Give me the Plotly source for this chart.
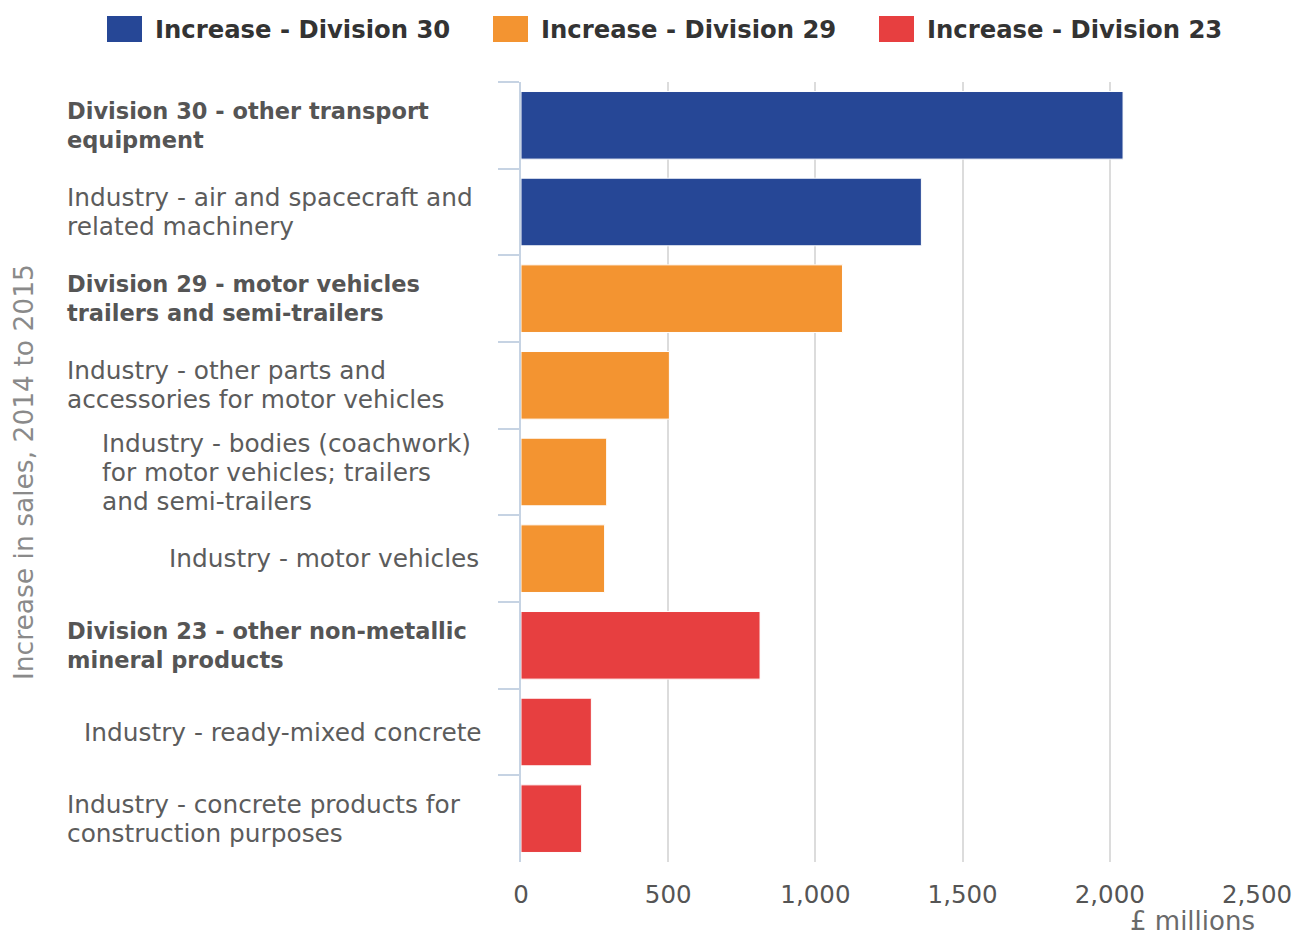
import plotly.graph_objects as go

# ---------------- data ----------------
categories = [
    "Division 30 - other transport equipment",
    "Industry - air and spacecraft and related machinery",
    "Division 29 - motor vehicles trailers and semi-trailers",
    "Industry - other parts and accessories for motor vehicles",
    "Industry - bodies (coachwork) for motor vehicles; trailers and semi-trailers",
    "Industry - motor vehicles",
    "Division 23 - other non-metallic mineral products",
    "Industry - ready-mixed concrete",
    "Industry - concrete products for construction purposes",
]
label_lines = [
    ["Division 30 - other transport", "equipment"],
    ["Industry - air and spacecraft and", "related machinery"],
    ["Division 29 - motor vehicles", "trailers and semi-trailers"],
    ["Industry - other parts and", "accessories for motor vehicles"],
    ["Industry - bodies (coachwork)", "for motor vehicles; trailers", "and semi-trailers"],
    ["Industry - motor vehicles"],
    ["Division 23 - other non-metallic", "mineral products"],
    ["Industry - ready-mixed concrete"],
    ["Industry - concrete products for", "construction purposes"],
]
is_division = [True, False, True, False, False, False, True, False, False]

series_names = ["Increase - Division 30", "Increase - Division 29", "Increase - Division 23"]
series_colors = ["#264796", "#F39431", "#E73F40"]
series_categories = [categories[0:2], categories[2:6], categories[6:9]]
series_values = [
    [2045, 1360],
    [1092, 504, 291, 284],
    [812, 239, 206],
]

x_title = "£ millions"
y_title = "Increase in sales, 2014 to 2015"
x_ticks = [0, 500, 1000, 1500, 2000, 2500]

# ---------------- layout constants ----------------
# page body has an 8px margin, so figure pixel = screen pixel - 8
OFF = 8
W, H = 1302 - 2 * OFF, 947 - 2 * OFF
PLOT_L, PLOT_R, PLOT_T, PLOT_B = 521, 1257, 82, 862   # screen pixels
L, T = PLOT_L - OFF, PLOT_T - OFF
R, B = W - (PLOT_R - OFF), H - (PLOT_B - OFF)
PW, PH = PLOT_R - PLOT_L, PLOT_B - PLOT_T
FONT = "DejaVu Sans, Verdana, sans-serif"
LINE_H = 29


def px_x(p):
    return (p - PLOT_L) / PW


def px_y(p):
    return (PLOT_B - p) / PH


fig = go.Figure()
for name, color, cats, vals in zip(series_names, series_colors, series_categories, series_values):
    fig.add_trace(go.Bar(
        name=name, y=cats, x=vals, orientation="h",
        marker=dict(color=color, line=dict(color="white", width=1)),
        showlegend=False,
        hovertemplate="%{y}: %{x:,}<extra></extra>",
    ))

annotations = []
shapes = []

# category labels: lines left-aligned, block placed per label
label_pos = [
    ("left", 65), ("left", 65), ("left", 65), ("left", 65), ("left", 100),
    ("right", 481), ("left", 65), ("right", 484), ("left", 65),
]
for cat, lines, bold, (side, pos) in zip(categories, label_lines, is_division, label_pos):
    n = len(lines)
    for i, line in enumerate(lines):
        annotations.append(dict(
            xref="paper", yref="y", x=px_x(pos), y=cat,
            yshift=((n - 1) / 2 - i) * LINE_H,
            text=f"<b>{line}</b>" if bold else line,
            xanchor=side, yanchor="middle", align="left", showarrow=False,
            font=dict(family=FONT, size=22.5 if bold else 24.8,
                      color="#555555" if bold else "#5c5c5c"),
        ))

# y axis title
annotations.append(dict(
    xref="paper", yref="paper", x=px_x(23), y=0.5, text=y_title, textangle=-90,
    xanchor="center", yanchor="middle", showarrow=False,
    font=dict(family=FONT, size=26.5, color="#8a8a8a"),
))
# x axis title
annotations.append(dict(
    xref="paper", yref="paper", x=1, y=px_y(921), text=x_title,
    xanchor="right", yanchor="middle", showarrow=False,
    font=dict(family=FONT, size=26, color="#6a6a6a"),
))

# legend (drawn manually to get the large swatches)
legend_sym_left = [107, 493, 879]
for name, color, sx in zip(series_names, series_colors, legend_sym_left):
    shapes.append(dict(
        type="rect", xref="paper", yref="paper",
        x0=px_x(sx), x1=px_x(sx + 35), y0=px_y(42), y1=px_y(16),
        fillcolor=color, line=dict(width=0), layer="above",
    ))
    annotations.append(dict(
        xref="paper", yref="paper", x=px_x(sx + 46), y=px_y(29), text=f"<b>{name}</b>",
        xanchor="left", yanchor="middle", showarrow=False,
        font=dict(family=FONT, size=24.3, color="#333333"),
    ))

fig.update_layout(
    width=W, height=H,
    margin=dict(l=L, r=R, t=T, b=B, autoexpand=False),
    paper_bgcolor="white", plot_bgcolor="white",
    barmode="relative", bargap=0.22,
    font=dict(family=FONT, color="#555555"),
    annotations=annotations, shapes=shapes,
    showlegend=False,
)
fig.update_xaxes(
    range=[0, 2500], tickvals=x_ticks, tickformat=",",
    showgrid=True, gridcolor="#dcdcdc", gridwidth=2,
    zeroline=False, showline=False, ticks="",
    tickfont=dict(family=FONT, size=24.5, color="#555555"),
    ticklabelstandoff=15,
)
fig.update_yaxes(
    type="category", categoryorder="array", categoryarray=categories,
    autorange="reversed", showticklabels=False, showgrid=False, zeroline=False,
    showline=True, linecolor="#c6d3e3", linewidth=2,
    ticks="outside", tickson="boundaries", ticklen=21, tickcolor="#c6d3e3", tickwidth=2,
)

fig.write_html("out.html")
